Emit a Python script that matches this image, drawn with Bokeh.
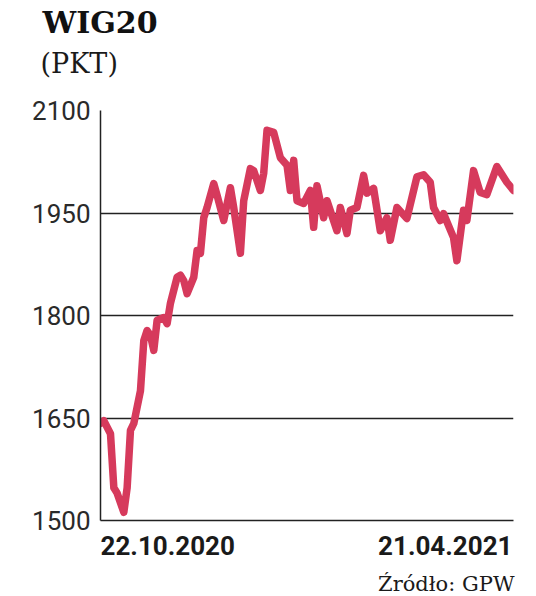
from bokeh.plotting import figure
from bokeh.models import Range1d, FixedTicker, Label
from bokeh.embed import file_html
from bokeh.resources import INLINE

# Trading session index (22.10.2020 = 0 ... 21.04.2021 = 124) and WIG20 close (pkt)
session = [0, 1, 3, 4, 5, 7, 8, 9, 10, 12, 13, 14, 15, 16, 17, 19, 20, 21, 23, 24,
           25, 26, 28, 29, 30, 31, 32, 34, 35, 37, 39, 40, 42, 43, 45, 46, 48, 49, 50, 52,
           54, 56, 57, 58, 59, 61, 63, 64, 65, 67, 68, 71, 72, 74, 75, 77, 79, 80, 82, 84,
           86, 87, 89, 92, 95, 97, 99, 100, 102, 103, 106, 107, 109, 110, 112, 114, 116, 119, 122, 124]
wig20 = [1642, 1646, 1627, 1548, 1540, 1512, 1548, 1632, 1642, 1690, 1763, 1778, 1771, 1749, 1793, 1797, 1788, 1818, 1856, 1859,
         1851, 1832, 1856, 1895, 1891, 1943, 1958, 1993, 1976, 1939, 1987, 1958, 1891, 1968, 2015, 2012, 1983, 2008, 2071, 2068,
         2031, 2020, 1983, 2027, 1968, 1964, 1983, 1929, 1990, 1943, 1968, 1924, 1958, 1920, 1954, 1958, 2005, 1979, 1986, 1924,
         1943, 1910, 1958, 1942, 2003, 2006, 1995, 1958, 1939, 1949, 1914, 1880, 1954, 1939, 2012, 1980, 1977, 2018, 1995, 1983]
y_ticks = [1500, 1650, 1800, 1950, 2100]
first_date = "22.10.2020"
last_date = "21.04.2021"
title_text = "WIG20"
unit_text = "(PKT)"
source_text = "Źródło: GPW"

x0, x1 = session[0], session[-1]
y0, y1 = y_ticks[0], y_ticks[-1]

p = figure(width=530, height=596, output_backend="svg", toolbar_location=None,
           x_range=Range1d(x0, x1), y_range=Range1d(y0, y1),
           min_border_left=100, min_border_right=17, min_border_top=110, min_border_bottom=76)
p.outline_line_color = None
p.background_fill_color = "white"
p.border_fill_color = "white"

p.xgrid.visible = False
p.ygrid.ticker = FixedTicker(ticks=y_ticks)
p.ygrid.grid_line_color = "#222222"
p.ygrid.grid_line_width = 1.4

p.yaxis.ticker = FixedTicker(ticks=y_ticks)
p.yaxis.major_tick_line_color = None
p.yaxis.minor_tick_line_color = None
p.yaxis.axis_line_color = "#222222"
p.yaxis.axis_line_width = 1.5
p.yaxis.major_label_text_font = "Roboto"
p.yaxis.major_label_text_font_size = "26px"
p.yaxis.major_label_text_color = "#2a2a2a"
p.yaxis.major_label_standoff = 4

p.xaxis.ticker = FixedTicker(ticks=[])
p.xaxis.major_tick_line_color = None
p.xaxis.minor_tick_line_color = None
p.xaxis.major_label_text_color = None
p.xaxis.axis_line_color = "#222222"
p.xaxis.axis_line_width = 1.5

p.line(session, wig20, line_color="#d63a5c", line_width=7.5, line_join="round", line_cap="round")

p.add_layout(Label(x=x0, y=y1, x_offset=-58, y_offset=88, text=title_text,
                   text_font="DejaVu Serif", text_font_style="bold", text_font_size="30px",
                   text_color="#111111", text_baseline="alphabetic", text_align="left"), "above")
p.add_layout(Label(x=x0, y=y1, x_offset=-60, y_offset=47, text=unit_text,
                   text_font="DejaVu Serif", text_font_size="27px",
                   text_color="#1a1a1a", text_baseline="alphabetic", text_align="left"), "above")

p.add_layout(Label(x=x0, y=y0, x_offset=0, y_offset=-25, text=first_date,
                   text_font="Roboto", text_font_style="bold", text_font_size="26px",
                   text_color="#1a1a1a", text_baseline="alphabetic", text_align="left"), "below")
p.add_layout(Label(x=x1, y=y0, x_offset=-1, y_offset=-25, text=last_date,
                   text_font="Roboto", text_font_style="bold", text_font_size="26px",
                   text_color="#1a1a1a", text_baseline="alphabetic", text_align="right"), "below")
p.add_layout(Label(x=x1, y=y0, x_offset=1, y_offset=-63, text=source_text,
                   text_font="DejaVu Serif", text_font_size="21px",
                   text_color="#1a1a1a", text_baseline="alphabetic", text_align="right"), "below")

open("out.html", "w").write(file_html(p, INLINE))
